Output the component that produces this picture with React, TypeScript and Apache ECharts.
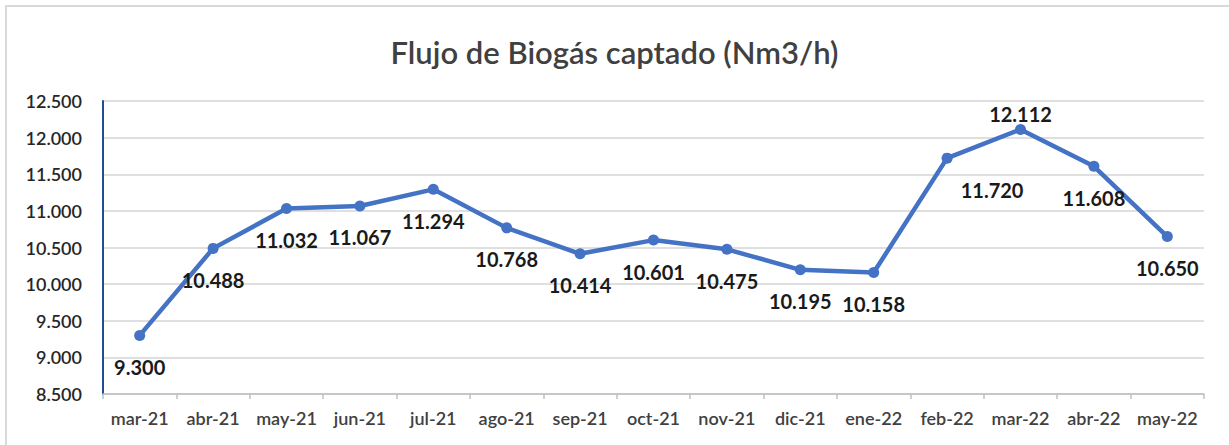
import React, { useEffect, useRef } from "react";
import * as echarts from "echarts";

const categories = ["mar-21", "abr-21", "may-21", "jun-21", "jul-21", "ago-21", "sep-21", "oct-21", "nov-21", "dic-21", "ene-22", "feb-22", "mar-22", "abr-22", "may-22"];
const values = [9300, 10488, 11032, 11067, 11294, 10768, 10414, 10601, 10475, 10195, 10158, 11720, 12112, 11608, 10650];
const yMin = 8500;
const yMax = 12500;
const yStep = 500;
const title = "Flujo de Biogás captado (Nm3/h)";

const fmt = (v: number) => {
  const s = Math.round(v).toString();
  return s.replace(/\B(?=(\d{3})+(?!\d))/g, ".");
};

const FONT = "Lato, 'Noto Sans', sans-serif";

export default function App() {
  const ref = useRef<HTMLDivElement>(null);
  useEffect(() => {
    if (!ref.current) return;
    const chart = echarts.init(ref.current, null, { renderer: "svg" });
    const data = values.map((v, i) => {
      const item: any = { value: v };
      if (categories[i] === "mar-22") {
        item.label = { position: "top", distance: 0 };
      } else if (categories[i] === "feb-22") {
        item.label = { offset: [45, 0] };
      }
      return item;
    });
    chart.setOption({
      animation: false,
      backgroundColor: "#ffffff",
      title: {
        text: title,
        left: "center",
        top: 31,
        textStyle: { fontFamily: FONT, fontSize: 31, fontWeight: 600, color: "#404040" },
      },
      graphic: [
        {
          type: "polyline",
          shape: { points: [[6, 445], [6, 6], [1229, 6]] },
          style: { stroke: "#D9D9D9", lineWidth: 2, fill: "none" },
          silent: true,
        },
      ],
      grid: { left: 103, right: 25, top: 101, bottom: 51, containLabel: false },
      xAxis: {
        type: "category",
        data: categories,
        boundaryGap: true,
        axisLine: { show: true, lineStyle: { color: "#BFBFBF", width: 1.5 } },
        axisTick: { show: true, alignWithLabel: false, interval: 0, length: 5, lineStyle: { color: "#BFBFBF", width: 1.5 } },
        axisLabel: { interval: 0, fontFamily: FONT, fontSize: 18, fontWeight: 600, color: "#404040", margin: 15 },
        splitLine: { show: false },
      },
      yAxis: {
        type: "value",
        min: yMin,
        max: yMax,
        interval: yStep,
        axisLine: { show: true, lineStyle: { color: "#1F4E96", width: 2 } },
        axisTick: { show: false },
        axisLabel: { fontFamily: FONT, fontSize: 18, fontWeight: 600, color: "#262626", margin: 21, formatter: (v: number) => fmt(v) },
        splitLine: { show: true, lineStyle: { color: "#D4D4D4", width: 1.5 } },
      },
      series: [
        {
          type: "line",
          data,
          symbol: "circle",
          symbolSize: 11,
          lineStyle: { color: "#4472C4", width: 4.5 },
          itemStyle: { color: "#4472C4" },
          label: {
            show: true,
            position: "bottom",
            distance: 16,
            fontFamily: FONT,
            fontSize: 20,
            fontWeight: 700,
            color: "#1a1a1a",
            formatter: (p: any) => fmt(p.value),
          },
        },
      ],
    });
    return () => chart.dispose();
  }, []);
  return <div ref={ref} style={{ position: "fixed", left: 0, top: 0, width: 1229, height: 445 }} />;
}
